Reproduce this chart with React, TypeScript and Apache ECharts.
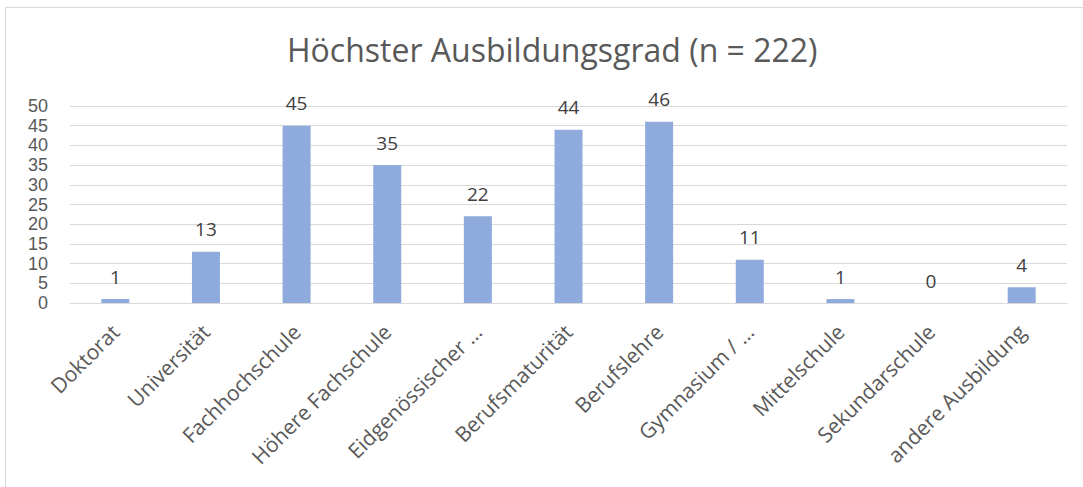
import React, { useEffect, useRef } from "react";
import * as echarts from "echarts";

const categories = [
  "Doktorat",
  "Universität",
  "Fachhochschule",
  "Höhere Fachschule",
  "Eidgenössischer …",
  "Berufsmaturität",
  "Berufslehre",
  "Gymnasium / …",
  "Mittelschule",
  "Sekundarschule",
  "andere Ausbildung",
];
const values = [1, 13, 45, 35, 22, 44, 46, 11, 1, 0, 4];
const titleText = "Höchster Ausbildungsgrad (n = 222)";

const FONT = "'Open Sans', 'Noto Sans', sans-serif";
const YFONT = "'Liberation Sans', 'DejaVu Sans', sans-serif";

export default function App() {
  const ref = useRef<HTMLDivElement>(null);
  useEffect(() => {
    if (!ref.current) return;
    const chart = echarts.init(ref.current, null, { renderer: "svg" });
    chart.setOption({
      animation: false,
      backgroundColor: "#ffffff",
      title: {
        text: titleText,
        left: 282,
        top: 28,
        textStyle: { fontFamily: FONT, fontSize: 32, fontWeight: "normal", color: "#595959" },
      },
      grid: { left: 70, right: 16, top: 106, bottom: 184, containLabel: false },
      xAxis: {
        type: "category",
        data: categories,
        axisLine: { show: true, lineStyle: { color: "#d9d9d9", width: 1 } },
        axisTick: { show: false },
        axisLabel: {
          rotate: 45,
          interval: 0,
          margin: 25,
          fontFamily: FONT,
          fontSize: 21,
          color: "#595959",
        },
      },
      yAxis: {
        type: "value",
        min: 0,
        max: 50,
        interval: 5,
        axisLine: { show: false },
        axisTick: { show: false },
        splitLine: { show: true, lineStyle: { color: "#d9d9d9", width: 1 } },
        axisLabel: {
          margin: 22,
          fontFamily: YFONT,
          fontSize: 18,
          lineHeight: 18,
          color: "#595959",
          showMinLabel: true,
          showMaxLabel: true,
          hideOverlap: false,
        },
      },
      series: [
        {
          type: "bar",
          data: values,
          barWidth: 28,
          itemStyle: { color: "#8faadc" },
          label: {
            show: true,
            position: "top",
            distance: 13,
            fontFamily: FONT,
            fontSize: 19,
            color: "#404040",
          },
        },
      ],
      graphic: [
        { type: "line", shape: { x1: 5.5, y1: 7.5, x2: 1083, y2: 7.5 }, style: { stroke: "#d9d9d9", lineWidth: 1 } },
        { type: "line", shape: { x1: 5.5, y1: 7.5, x2: 5.5, y2: 487 }, style: { stroke: "#d9d9d9", lineWidth: 1 } },
      ],
    });
    return () => chart.dispose();
  }, []);
  return (
    <div
      ref={ref}
      style={{ position: "fixed", left: 0, top: 0, width: 1083, height: 487 }}
    />
  );
}
